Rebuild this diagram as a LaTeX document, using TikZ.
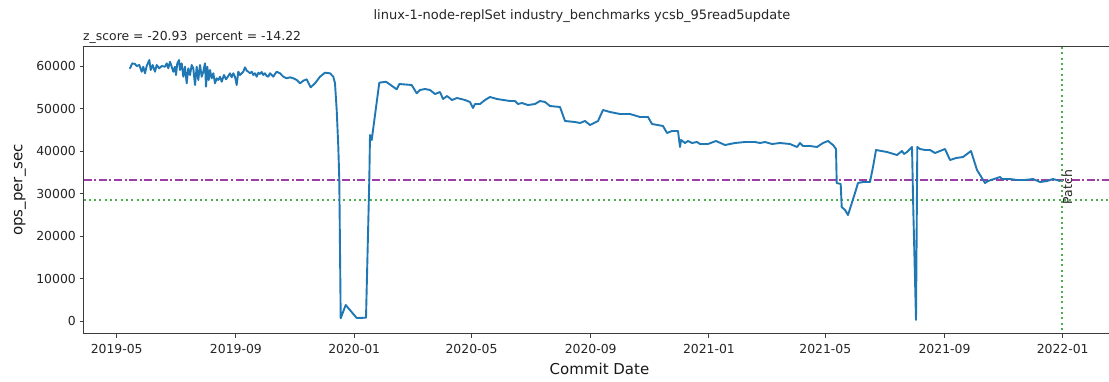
\documentclass[tikz,border=0pt]{standalone}
\usepackage{fontspec}
\setmainfont{DejaVu Sans}
\definecolor{tabblue}{HTML}{1F77B4}
\definecolor{tabgreen}{HTML}{2CA02C}
\definecolor{mpurple}{RGB}{155,62,165}
\definecolor{spinec}{RGB}{60,60,60}
\begin{document}
\begin{tikzpicture}[x=1pt,y=-1pt,
  spine/.style={draw=spinec,line width=1pt},
  tickmark/.style={draw=spinec,line width=0.9pt},
  ticklab/.style={font=\fontsize{12.4}{14}\selectfont,text=black!85,inner sep=0pt},
  titlelab/.style={font=\fontsize{13}{15}\selectfont,text=black!85,inner sep=0pt},
  axlab/.style={font=\fontsize{15}{17}\selectfont,text=black!90,inner sep=0pt},
  series/.style={draw=tabblue,line width=1.9pt,line join=round,line cap=round},
  meanline/.style={draw=mpurple,line width=2pt,dash pattern=on 8pt off 2.6pt on 2pt off 2.6pt},
  lowline/.style={draw=tabgreen!85!white,line width=2pt,dash pattern=on 2pt off 3.3pt},
]
\useasboundingbox (0,0) rectangle (1109,381);
\fill[white] (0,0) rectangle (1109,381);

% axes frame
\draw[spine] (83.5,333.5) -- (83.5,46.5) -- (1116,46.5);
\draw[spine] (83.5,333.5) -- (1116,333.5);

% y ticks
\foreach \v/\lab in {0/0,1/10000,2/20000,3/30000,4/40000,5/50000,6/60000}{
  \draw[tickmark] (79.5,321-42.5*\v) -- (83.5,321-42.5*\v);
  \node[ticklab,anchor=east] (yt\v) at (76,321-42.5*\v) {\lab};
}
% x ticks
\foreach \xx/\lab/\i in {116.7/2019-05/1,235.9/2019-09/2,354.2/2020-01/3,471.5/2020-05/4,590.7/2020-09/5,708.9/2021-01/6,825.3/2021-05/7,944.5/2021-09/8,1062.7/2022-01/9}{
  \draw[tickmark] (\xx,333.5) -- (\xx,337.5);
  \node[ticklab,anchor=center] (xt\i) at (\xx,349) {\lab};
}

% labels
\node[axlab] (xlabel) at (599.5,369) {Commit Date};
\node[axlab,rotate=90] (ylabel) at (20,190) {ops\_per\_sec};
\node[titlelab] (title) at (582,16) {linux-1-node-replSet industry\_benchmarks ycsb\_95read5update};
\node[ticklab,anchor=west] (zs) at (83,37.5) {z\_score = -20.93\ \ percent = -14.22};

% reference lines
\draw[meanline] (83.5,179.5) -- (1109,179.5);
\draw[lowline] (83.5,200) -- (1109,200);
\draw[lowline] (1062,47) -- (1062,333);
\node[ticklab,rotate=90] (patch) at (1067.5,187) {Patch};

% data series
\draw[series] (130.0,68.3) -- (132.3,63.3) -- (135.0,64.0) -- (136.7,66.0) -- (139.3,65.0) -- (141.7,71.7) -- (143.3,66.7) -- (145.0,73.3) -- (146.7,66.0) -- (149.3,60.0) -- (150.7,70.0) -- (152.7,65.0) -- (155.0,71.7) -- (156.7,65.0) -- (159.3,68.3) -- (161.7,66.0) -- (165.0,66.7) -- (166.7,63.3) -- (168.3,68.3) -- (170.0,61.7) -- (171.7,66.7) -- (173.3,71.7) -- (175.0,66.7) -- (176.0,75.0) -- (177.3,63.3) -- (179.0,60.0) -- (180.0,70.0) -- (181.7,63.3) -- (183.3,76.7) -- (185.0,66.7) -- (186.7,83.3) -- (188.3,68.3) -- (190.0,75.0) -- (191.7,65.0) -- (193.3,68.3) -- (195.0,85.0) -- (196.7,66.7) -- (198.3,80.0) -- (200.0,65.0) -- (201.7,76.7) -- (203.3,71.7) -- (205.0,63.3) -- (206.0,86.7) -- (207.3,66.7) -- (208.7,80.0) -- (210.0,70.0) -- (211.7,78.3) -- (213.3,73.3) -- (215.0,83.3) -- (216.7,78.3) -- (218.3,80.0) -- (220.0,76.7) -- (221.7,81.7) -- (224.0,75.0) -- (226.0,79.3) -- (228.3,76.0) -- (230.0,73.3) -- (231.7,77.3) -- (233.3,73.3) -- (235.0,76.7) -- (236.7,85.0) -- (238.3,71.7) -- (240.0,75.0) -- (241.7,73.3) -- (243.3,71.7) -- (245.0,67.3) -- (246.7,70.7) -- (248.3,71.7) -- (250.0,73.3) -- (251.7,71.7) -- (253.3,75.0) -- (255.0,73.3) -- (256.7,76.7) -- (258.3,72.7) -- (260.0,74.0) -- (261.7,72.0) -- (263.3,75.0) -- (265.0,73.3) -- (266.7,76.0) -- (268.3,76.7) -- (270.0,73.3) -- (271.7,75.0) -- (273.3,76.7) -- (275.0,74.0) -- (276.7,71.7) -- (280.0,73.3) -- (283.3,76.7) -- (286.7,78.3) -- (290.0,77.3) -- (293.3,78.3) -- (296.7,80.0) -- (300.0,83.3) -- (303.3,80.7) -- (306.7,79.3) -- (310.7,87.3) -- (315.0,83.3) -- (320.0,76.7) -- (325.0,72.7) -- (330.0,73.3) -- (333.3,76.7) -- (335.0,83.3) -- (336.7,110) -- (338.3,146.7) -- (339.3,180) -- (340.7,318.3) -- (345.7,305) -- (356.7,318) -- (366,317.7) -- (369.3,180) -- (370,135) -- (371.7,140) -- (379.3,82.7) -- (386,81.7) -- (396.7,89.3) -- (399.3,84) -- (411.7,85) -- (416.7,93.3) -- (420,90) -- (425,89) -- (430,90) -- (435,94) -- (440,92) -- (443,99) -- (447,96) -- (452,100) -- (457,98) -- (465,100) -- (470,102) -- (473,108) -- (475,104) -- (480,104) -- (485,100) -- (490,97) -- (497,99) -- (510,101) -- (515,101) -- (518,104) -- (522,103) -- (528,105) -- (535,104) -- (540,101) -- (545,102) -- (550,106) -- (560,107) -- (565,121) -- (575,122) -- (580,123) -- (585,121) -- (590,125) -- (598,121) -- (603,110) -- (610,112) -- (620,114) -- (630,114) -- (640,117) -- (648,117) -- (652,124) -- (663,126) -- (667,133) -- (672,131) -- (678,131) -- (680,147) -- (681,140) -- (685,143) -- (688,141) -- (692,143) -- (697,142) -- (700,144) -- (708,144) -- (716,141) -- (725,145) -- (735,143) -- (745,142) -- (755,142) -- (760,143) -- (765,142) -- (772,144) -- (780,143) -- (790,144) -- (797,147) -- (800,143) -- (803,146) -- (810,146) -- (817,147) -- (823,143) -- (828,141) -- (833,145) -- (836,149) -- (836.7,183) -- (840.7,184) -- (841.7,207) -- (845,210) -- (848,215) -- (855,193) -- (858,183) -- (863,182) -- (870,182) -- (873,167) -- (876,150) -- (887,152) -- (897,155) -- (902,151) -- (904,154) -- (907,152) -- (912,147) -- (913.3,210) -- (916,320) -- (917.3,147) -- (920,149) -- (925,150) -- (930,150) -- (935,153) -- (940,151) -- (945,149) -- (950,160) -- (956,158) -- (963,157) -- (971,151) -- (977,170) -- (985,183) -- (988,181) -- (1000,177) -- (1002,179) -- (1010,179) -- (1017,180) -- (1025,180) -- (1033,179) -- (1040,182) -- (1047,181) -- (1053,179) -- (1060,181);
\end{tikzpicture}
\end{document}
